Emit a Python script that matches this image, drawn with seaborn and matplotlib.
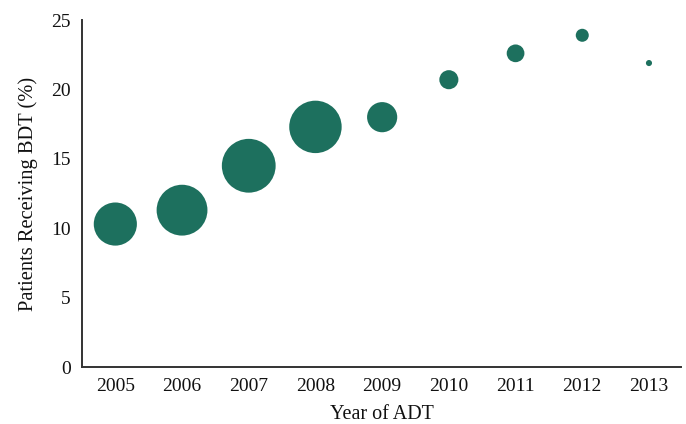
import matplotlib
matplotlib.use("Agg")
import matplotlib.pyplot as plt
import seaborn as sns
import pandas as pd

# values
years = ["2005", "2006", "2007", "2008", "2009", "2010", "2011", "2012", "2013"]
pct_bdt = [10.3, 11.3, 14.5, 17.3, 18.0, 20.7, 22.6, 23.9, 21.9]
# relative bubble weight (area)
weight = [450, 625, 700, 665, 220, 88, 76, 41, 9]

df = pd.DataFrame({"Year": years, "Pct": pct_bdt, "Weight": weight})

sns.set_theme(style="white")
plt.rcParams["font.family"] = ["Liberation Serif", "DejaVu Serif"]

fig = plt.figure(figsize=(6.86, 4.24), dpi=100)
ax = fig.add_axes([0.1195, 0.1344, 0.8732, 0.8184])

max_w = max(weight)
sns.scatterplot(
    data=df, x="Year", y="Pct", size="Weight",
    sizes=(0, 1500), size_norm=(0, max_w),
    color="#1D705E", edgecolor="none", alpha=1.0, legend=False, ax=ax,
)

ax.set_xlim(-0.5, 8.48)
ax.set_ylim(0, 25)
ax.set_yticks([0, 5, 10, 15, 20, 25])
ax.set_xlabel("Year of ADT", fontsize=14.5, color="#111111", labelpad=7)
ax.set_ylabel("Patients Receiving BDT (%)", fontsize=14.8, color="#111111")
ax.yaxis.set_label_coords(-0.073, 0.5)
ax.tick_params(axis="both", length=0, labelsize=14, colors="#111111")
ax.tick_params(axis="x", pad=8)
ax.tick_params(axis="y", pad=8)
ax.spines[["top", "right"]].set_visible(False)
for s in ["left", "bottom"]:
    ax.spines[s].set_color("#333333")
    ax.spines[s].set_linewidth(1.4)

fig.savefig("out.png", dpi=100)
